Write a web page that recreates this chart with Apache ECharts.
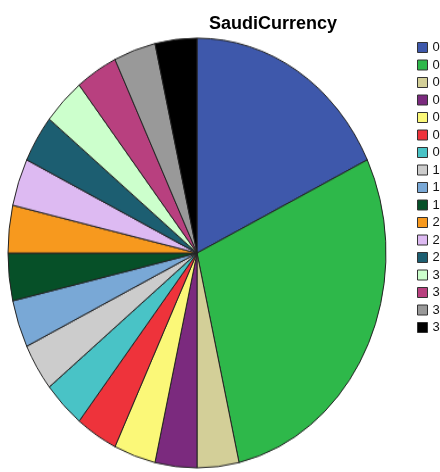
<!DOCTYPE html>
<html>
<head>
<meta charset="utf-8">
<script src="https://cdn.jsdelivr.net/npm/echarts@6/dist/echarts.min.js"></script>
<style>
html,body{margin:0;padding:0;background:#fff;}
#wrap{position:relative;width:440px;height:472px;overflow:hidden;}
#pie{position:absolute;left:7px;top:37px;width:380px;height:380px;transform:scaleY(1.137);transform-origin:0 0;}
#main{position:absolute;left:0;top:0;width:440px;height:472px;}
</style>
</head>
<body>
<div id="wrap"><div id="pie"></div><div id="main"></div></div>
<script>
// Data
const titleText = 'SaudiCurrency';
const legendLabels = ['0','0','0','0','0','0','0','1','1','1','2','2','2','3','3','3','3'];
const sliceValues = [5, 8, 1, 1, 1, 1, 1, 1, 1, 1, 1, 1, 1, 1, 1, 1, 1];
const sliceColors = ['#3e58ab','#2eb84a','#d3cf98','#7b2a7e','#fbf878','#ee333b','#49c3c6','#cccccc','#79a8d6','#065028','#f7991e','#ddbaf2','#1c5e71','#ccffcc','#b8407f','#999999','#000000'];

const ids = sliceValues.map((v, i) => 's' + i);
const data = sliceValues.map((v, i) => ({ name: ids[i], value: v, itemStyle: { color: sliceColors[i] } }));

const pieChart = echarts.init(document.getElementById('pie'), null, { renderer: 'canvas' });
pieChart.setOption({
  animation: false,
  series: [{
    type: 'pie',
    center: [190, 190],
    radius: [0, 189],
    startAngle: 90,
    clockwise: true,
    label: { show: false },
    labelLine: { show: false },
    emphasis: { disabled: true },
    itemStyle: { borderColor: '#222222', borderWidth: 1 },
    data: data
  }]
});

const mainChart = echarts.init(document.getElementById('main'), null, { renderer: 'canvas' });
mainChart.setOption({
  animation: false,
  title: {
    text: titleText,
    left: 268,
    top: 10,
    textAlign: 'center',
    textStyle: { fontFamily: 'Liberation Sans, Arial, sans-serif', fontSize: 18, fontWeight: 'bold', color: '#000' }
  },
  legend: {
    orient: 'vertical',
    left: 417,
    top: 41,
    padding: 0,
    itemGap: 4.5,
    itemWidth: 10,
    itemHeight: 10,
    icon: 'rect',
    itemStyle: { borderColor: '#333333', borderWidth: 1 },
    selectedMode: false,
    data: ids,
    formatter: function (name) { return legendLabels[ids.indexOf(name)]; },
    textStyle: { fontFamily: 'Liberation Sans, Arial, sans-serif', fontSize: 13, color: '#111' }
  },
  series: [{
    type: 'pie',
    center: [-500, -500],
    radius: [0, 1],
    silent: true,
    label: { show: false },
    labelLine: { show: false },
    data: data
  }]
});
</script>
</body>
</html>
